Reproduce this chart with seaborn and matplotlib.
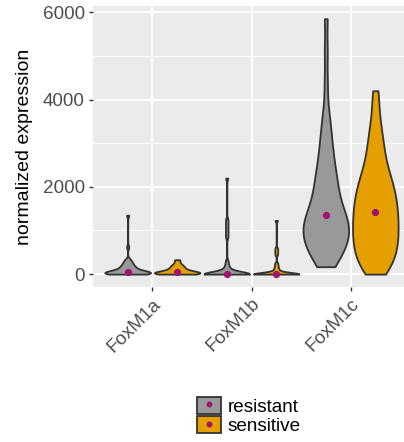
import numpy as np
import pandas as pd
import matplotlib
matplotlib.use("Agg")
import matplotlib.pyplot as plt
import seaborn as sns
from matplotlib.patches import Patch
from matplotlib.lines import Line2D
from matplotlib.legend_handler import HandlerTuple
from matplotlib.ticker import FixedLocator

plt.rcParams["font.family"] = ["Liberation Sans", "DejaVu Sans"]

genes = ["FoxM1a", "FoxM1b", "FoxM1c"]
groups = ["resistant", "sensitive"]
fill_colors = ["#999999", "#E69F00"]
median_color = "#A0136E"
y_ticks = [0, 2000, 4000, 6000]
y_minor = [1000, 3000, 5000]

foxm1a_resistant = [0, 0, 0, 3, 6, 9, 12, 15, 18, 21, 24, 27, 30, 34, 38, 42, 44, 46, 48, 52,
                    60, 70, 80, 92, 105, 118, 130, 145, 160, 175, 190, 210, 230, 255, 280,
                    310, 340, 620, 1350]
foxm1a_sensitive = [0, 0, 0, 3, 6, 10, 14, 18, 22, 26, 30, 34, 38, 42, 46, 50, 52,
                    60, 72, 85, 98, 112, 126, 142, 158, 175, 195, 215, 240, 300, 330]
foxm1b_resistant = [0, 0, 0, 0, 0, 0, 0, 0, 0, 0, 0, 0, 0, 0, 0, 0, 2, 5,
                    10, 20, 35, 50, 70, 90, 120, 160, 220, 300,
                    850, 950, 1050, 1150, 1250, 2200]
foxm1b_sensitive = [0, 0, 0, 0, 0, 0, 0, 0, 0, 0, 0, 0, 0, 0, 0, 2, 4,
                    10, 25, 45, 70, 100, 140, 190, 250,
                    450, 520, 590, 1230]
foxm1c_resistant = [170, 230, 300, 370, 440, 510,
                    570, 610, 650, 690, 740, 780, 830, 870, 910,
                    950, 990, 1030, 1070, 1110, 1150, 1190, 1240, 1290,
                    1300, 1360, 1410, 1470, 1530, 1600, 1670,
                    1740, 1820, 1900, 1980, 2060,
                    2150, 2240, 2330, 2420,
                    2550, 2680, 2800, 2950, 3120, 3300, 3500, 3800, 4400, 5100, 5850]
foxm1c_sensitive = [0, 70, 140, 210, 280, 350,
                    410, 460, 520, 580, 640, 700, 750,
                    800, 850, 900, 950,
                    1020, 1070, 1120, 1180, 1230, 1290, 1340, 1390, 1440, 1500, 1560, 1620, 1680,
                    1730, 1790, 1850, 1910, 1970,
                    2040, 2110, 2190, 2270, 2350, 2430,
                    2560, 2690, 2820, 2950, 3120, 3300, 3500, 3850, 4200]

series = {
    ("FoxM1a", "resistant"): foxm1a_resistant,
    ("FoxM1a", "sensitive"): foxm1a_sensitive,
    ("FoxM1b", "resistant"): foxm1b_resistant,
    ("FoxM1b", "sensitive"): foxm1b_sensitive,
    ("FoxM1c", "resistant"): foxm1c_resistant,
    ("FoxM1c", "sensitive"): foxm1c_sensitive,
}
rows = []
for (gene, grp), vals in series.items():
    for v in vals:
        rows.append((gene, grp, v))
df = pd.DataFrame(rows, columns=["gene", "group", "expr"])

# smoothing multiplier per gene panel
bw_adjust = {"FoxM1a": 1.0, "FoxM1b": 1.0, "FoxM1c": 0.7}


def nrd0_factor(kde):
    # R's default bandwidth (bw.nrd0), as used by ggplot2, expressed as a scipy factor
    x = np.asarray(kde.dataset).ravel()
    sd = x.std(ddof=1)
    q75, q25 = np.percentile(x, [75, 25])
    lo = min(sd, (q75 - q25) / 1.34)
    if lo <= 0:
        lo = sd
    bw = 0.9 * lo * len(x) ** -0.2
    return bw / sd


fig = plt.figure(figsize=(4.04, 4.42), dpi=100)
ax = fig.add_axes([93 / 404, 1 - 287 / 442, (410 - 93) / 404, (287 - 6) / 442])
ax.set_facecolor("#EBEBEB")
ax.set_axisbelow(True)

for g in genes:
    sns.violinplot(data=df[df["gene"] == g], x="gene", y="expr", hue="group",
                   order=genes, hue_order=groups, palette=fill_colors, saturation=1,
                   cut=0, density_norm="width", inner=None, width=1.0, gap=0.08,
                   linewidth=1.3, linecolor="#333333", bw_method=nrd0_factor,
                   bw_adjust=bw_adjust[g], legend=False, ax=ax)
sns.pointplot(data=df, x="gene", y="expr", hue="group", order=genes, hue_order=groups,
              estimator="median", errorbar=None, dodge=0.5, linestyle="none", markers="o",
              palette=[median_color, median_color], markersize=3.2, legend=False, ax=ax)

ax.set_xlim(-0.6, 2.6)
ax.set_ylim(-295, 6142)
ax.set_yticks(y_ticks)
ax.yaxis.set_minor_locator(FixedLocator(y_minor))
ax.grid(which="major", color="white", linewidth=1.4)
ax.grid(which="minor", axis="y", color="white", linewidth=0.7)
ax.tick_params(which="minor", length=0)
ax.tick_params(which="major", length=3, width=1, color="#333333", labelcolor="#4D4D4D",
               labelsize=13.6, pad=3)
for s in ax.spines.values():
    s.set_visible(False)
ax.set_xlabel("")
ax.set_ylabel("normalized expression", fontsize=14, color="black", labelpad=7)
plt.setp(ax.get_xticklabels(), rotation=45, ha="right", rotation_mode="anchor")

handles = [(Patch(facecolor=c, edgecolor="#333333", linewidth=1.3),
            Line2D([], [], marker="o", linestyle="none", color=median_color, markersize=3.2))
           for c in fill_colors]
fig.legend(handles, groups, handler_map={tuple: HandlerTuple(ndivide=1)},
           loc="center", bbox_to_anchor=(249 / 404, 1 - 416 / 442), frameon=False,
           fontsize=13.6, handlelength=1.25, handleheight=1.0, labelspacing=0.05,
           handletextpad=0.35)

fig.savefig("out.png", dpi=100)
